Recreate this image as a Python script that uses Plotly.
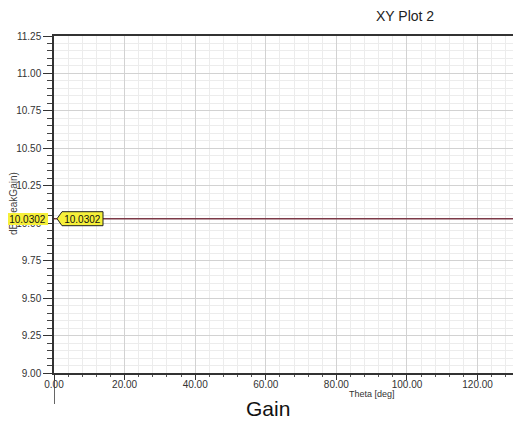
import plotly.graph_objects as go

# Data
theta_deg = [0, 30, 60, 90, 120, 150, 180]
peak_gain_db = [10.0302, 10.0302, 10.0302, 10.0302, 10.0302, 10.0302, 10.0302]
marker_theta = 0
marker_value = peak_gain_db[0]
x_tick_vals = [0, 20, 40, 60, 80, 100, 120]
y_tick_vals = [9.00, 9.25, 9.50, 9.75, 10.00, 10.25, 10.50, 10.75, 11.00, 11.25]

OFF = 8  # page body margin
W, H = 521, 427 - OFF
PL, PT, PB = 54, 36, 373  # plot area in page pixels
L, T = PL - OFF, PT - OFF
R = 0
plot_w = W - L - R
plot_h = PB - PT
B = H - T - plot_h
X_MAX = 132.3 * plot_w / 467

FONT = "Liberation Sans"
TICKCOL = "#333333"

def px(x):
    return (x - PL) / plot_w

def py(y):
    return (PB - y) / plot_h

fig = go.Figure()
fig.add_trace(go.Scatter(
    x=theta_deg, y=peak_gain_db, mode="lines",
    line=dict(color="#7d3a48", width=1.6),
    showlegend=False, hoverinfo="skip",
))

fig.update_layout(
    width=W, height=H,
    margin=dict(l=L, r=R, t=T, b=B, pad=0),
    paper_bgcolor="white", plot_bgcolor="white",
    font=dict(family=FONT, size=10, color=TICKCOL),
    xaxis=dict(
        range=[0, X_MAX], tickvals=x_tick_vals, tickformat=".2f",
        showgrid=True, gridcolor="#d2d2d2", gridwidth=1,
        ticks="outside", ticklen=5, tickcolor="#333", tickwidth=1,
        showline=True, linecolor="#333", linewidth=1.5, mirror=True,
        zeroline=False, ticklabelstandoff=-4,
        tickfont=dict(size=10, color=TICKCOL, family=FONT),
        minor=dict(dtick=4, showgrid=True, gridcolor="#ececec",
                   ticks="outside", ticklen=2, tickcolor="#555"),
    ),
    yaxis=dict(
        range=[9.0, 11.25], tickvals=y_tick_vals, tickformat=".2f",
        showgrid=True, gridcolor="#d2d2d2", gridwidth=1,
        ticks="outside", ticklen=9, tickcolor="#333", tickwidth=1,
        showline=True, linecolor="#333", linewidth=1.5,
        zeroline=False,
        tickfont=dict(size=10, color=TICKCOL, family=FONT),
        minor=dict(dtick=0.05, showgrid=True, gridcolor="#ececec",
                   ticks="outside", ticklen=5, tickcolor="#444"),
    ),
)

# y axis line extending below the x axis
fig.add_shape(type="line", xref="x", yref="paper",
              x0=0, x1=0, y0=0, y1=-31 / plot_h,
              line=dict(color="#333", width=1.5), layer="above")

# marker pentagon shapes
yellow = "#f6f03a"
fig.add_shape(type="path", xref="x", yref="y",
              xsizemode="pixel", ysizemode="pixel",
              xanchor=marker_theta, yanchor=marker_value,
              path="M-48,-7 L-5,-7 L0,0 L-5,7 L-48,7 Z",
              fillcolor=yellow, line=dict(color="#222", width=1), layer="above")
fig.add_shape(type="path", xref="x", yref="y",
              xsizemode="pixel", ysizemode="pixel",
              xanchor=marker_theta, yanchor=marker_value,
              path="M3,0 L8,-7 L49,-7 L49,7 L8,7 Z",
              fillcolor=yellow, line=dict(color="#222", width=1), layer="above")

# y axis title (drawn before the marker labels so they cover it)
fig.add_annotation(text="dB(PeakGain)", xref="paper", yref="paper",
                   x=px(13), y=py(204),
                   xanchor="center", yanchor="middle", textangle=-90,
                   showarrow=False, font=dict(size=10, color="#444", family=FONT))

label = f"{marker_value:.4f}"
fig.add_annotation(text=label, xref="x", yref="y", x=marker_theta, y=marker_value,
                   xanchor="center", yanchor="middle", xshift=-26.5,
                   showarrow=False, bgcolor=yellow, width=41, height=12,
                   borderpad=0, borderwidth=0,
                   font=dict(size=10, color="#111", family=FONT))
fig.add_annotation(text=label, xref="x", yref="y", x=marker_theta, y=marker_value,
                   xanchor="center", yanchor="middle", xshift=28.5,
                   showarrow=False, bgcolor=yellow, width=39, height=12,
                   borderpad=0, borderwidth=0,
                   font=dict(size=10, color="#111", family=FONT))

# titles
fig.add_annotation(text="XY Plot 2", xref="paper", yref="paper",
                   x=px(405), y=py(16),
                   xanchor="center", yanchor="middle", showarrow=False,
                   font=dict(size=14, color="#222", family=FONT))
fig.add_annotation(text="Theta [deg]", xref="paper", yref="paper",
                   x=px(372), y=py(394),
                   xanchor="center", yanchor="middle", showarrow=False,
                   font=dict(size=9, color="#333", family=FONT))
fig.add_annotation(text="Gain", xref="paper", yref="paper",
                   x=px(268), y=py(409),
                   xanchor="center", yanchor="middle", showarrow=False,
                   font=dict(size=21, color="#111", family=FONT))

fig.write_html("out.html")
